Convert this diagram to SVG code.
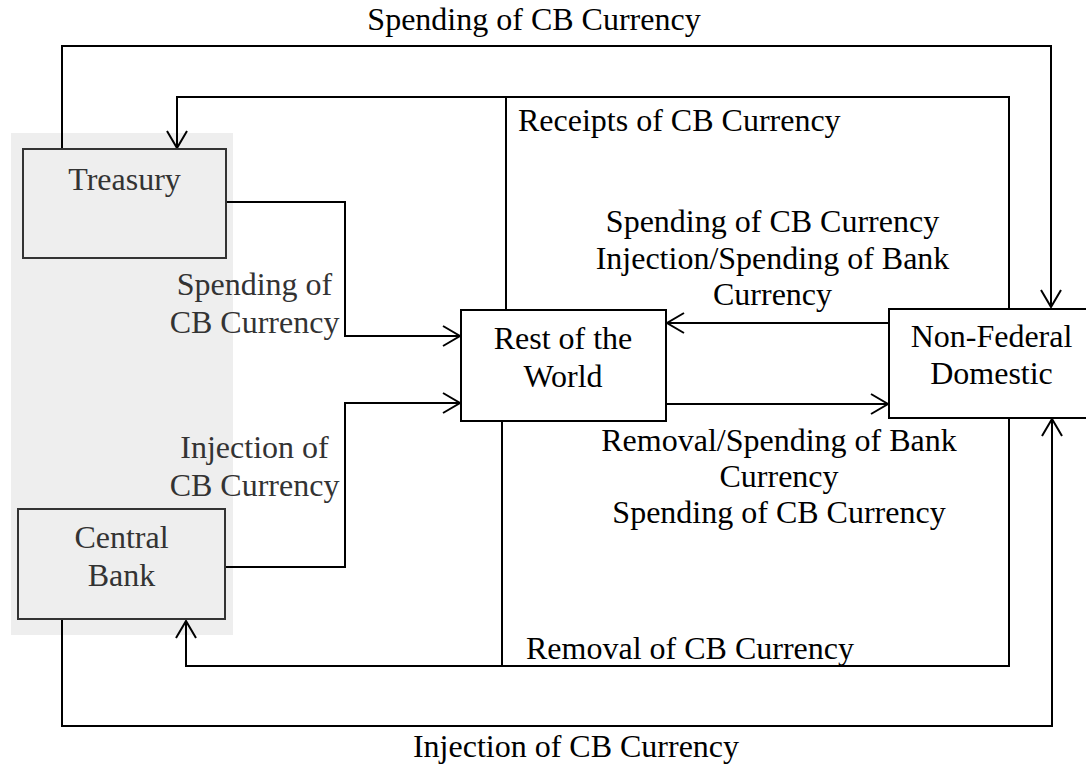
<svg xmlns="http://www.w3.org/2000/svg" width="1086" height="765" viewBox="0 0 1086 765">
<style>
text{font-family:"Liberation Serif","Times New Roman",serif;font-size:32px;fill:#000;text-anchor:middle}
.g{fill:#333}
.gbox{fill:#eeeeee;stroke:#333;stroke-width:2}
.box{fill:#fff;stroke:#000;stroke-width:2}
.c{fill:none;stroke:#000;stroke-width:2}
.a{marker-end:url(#arr)}
</style>
<defs>
<marker id="arr" markerUnits="userSpaceOnUse" markerWidth="24" markerHeight="24" viewBox="-20 -12 24 24" refX="0" refY="0" orient="auto">
<path d="M-17,-10 L0,0 L-17,10" fill="none" stroke="#000" stroke-width="2"/>
</marker>
</defs>
<rect x="11" y="133" width="222" height="502" fill="#eeeeee"/>
<g id="connectors">
<path class="c a" d="M62,149 V46 H1051 V307"/>
<path class="c a" d="M1009,308 V97 H177 V148"/>
<path class="c" d="M506,310 V97"/>
<path class="c a" d="M226,202 H345 V336 H460"/>
<path class="c a" d="M226,567 H345 V403 H460"/>
<path class="c a" d="M889,323 H667"/>
<path class="c a" d="M666,404 H888"/>
<path class="c a" d="M1009,418 V666 H186 V621"/>
<path class="c" d="M502,421 V666"/>
<path class="c a" d="M62,619 V726 H1052 V419"/>
</g>
<g id="treasury">
<rect class="gbox" x="23" y="149" width="203" height="109"/>
<text class="g" x="124.5" y="190">Treasury</text>
</g>
<g id="central-bank">
<rect class="gbox" x="18" y="509" width="207" height="110"/>
<text class="g" x="121.5" y="548">Central</text>
<text class="g" x="121.5" y="586">Bank</text>
</g>
<g id="rest-of-world">
<rect class="box" x="461" y="310" width="205" height="111"/>
<text x="563" y="349">Rest of the</text>
<text x="563" y="387">World</text>
</g>
<g id="non-federal">
<rect class="box" x="889" y="309" width="206" height="109"/>
<text x="991.5" y="347">Non-Federal</text>
<text x="991.5" y="384">Domestic</text>
</g>
<g id="labels">
<text x="534" y="30">Spending of CB Currency</text>
<text x="518" y="131" style="text-anchor:start">Receipts of CB Currency</text>
<text x="772.5" y="232">Spending of CB Currency</text>
<text x="772.5" y="269">Injection/Spending of Bank</text>
<text x="772.5" y="305">Currency</text>
<text x="779" y="451">Removal/Spending of Bank</text>
<text x="779" y="487">Currency</text>
<text x="779" y="523">Spending of CB Currency</text>
<text class="g" x="254.5" y="295">Spending of</text>
<text class="g" x="254.5" y="333">CB Currency</text>
<text class="g" x="254.5" y="458">Injection of</text>
<text class="g" x="254.5" y="496">CB Currency</text>
<text x="526" y="659" style="text-anchor:start">Removal of CB Currency</text>
<text x="576" y="757">Injection of CB Currency</text>
</g>
</svg>
